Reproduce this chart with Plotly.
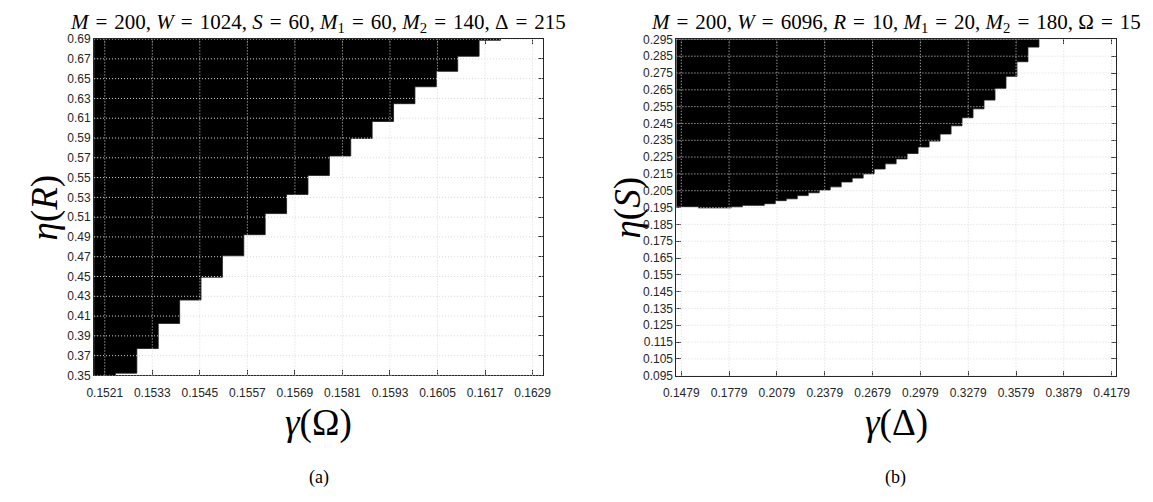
import plotly.graph_objects as go

# ---------------- data ----------------
# (a) column centres of gamma(Omega) and lower edge of the black (feasible) region eta(R)
a_gamma = [0.15210, 0.15264, 0.15318, 0.15372, 0.15426, 0.15480, 0.15534, 0.15588,
           0.15642, 0.15696, 0.15750, 0.15804, 0.15858, 0.15912, 0.15966, 0.16020,
           0.16074, 0.16128, 0.16182]
a_eta_low = [0.3500, 0.3523, 0.3772, 0.4026, 0.4262, 0.4493, 0.4709, 0.4923,
             0.5136, 0.5330, 0.5522, 0.5718, 0.5896, 0.6067, 0.6247, 0.6418,
             0.6574, 0.6726, 0.6888]
a_cell_width = 0.00054
a_xticks = [0.1521, 0.1533, 0.1545, 0.1557, 0.1569, 0.1581, 0.1593, 0.1605, 0.1617, 0.1629]
a_yticks = [0.35, 0.37, 0.39, 0.41, 0.43, 0.45, 0.47, 0.49, 0.51, 0.53, 0.55,
            0.57, 0.59, 0.61, 0.63, 0.65, 0.67, 0.69]
a_xrange = [0.15183, 0.16317]
a_yrange = [0.35, 0.69]

# (b) column centres of gamma(Delta) and lower edge of the black region eta(S)
b_gamma = [0.14829, 0.15518, 0.16207, 0.16897, 0.17586, 0.18275, 0.18964, 0.19653,
           0.20343, 0.21032, 0.21721, 0.22410, 0.23099, 0.23789, 0.24478, 0.25167,
           0.25856, 0.26545, 0.27235, 0.27924, 0.28613, 0.29302, 0.29991, 0.30681,
           0.31370, 0.32059, 0.32748, 0.33437, 0.34127, 0.34816, 0.35505, 0.36194,
           0.36883]
b_eta_low = [0.1955, 0.1955, 0.1948, 0.1948, 0.1948, 0.1954, 0.1963, 0.1963,
             0.1973, 0.1991, 0.2002, 0.2021, 0.2038, 0.2054, 0.2073, 0.2102,
             0.2125, 0.2150, 0.2179, 0.2210, 0.2239, 0.2271, 0.2310, 0.2345,
             0.2387, 0.2436, 0.2484, 0.2537, 0.2589, 0.2659, 0.2730, 0.2817,
             0.2904]
b_cell_width = 0.006892
b_xticks = [0.1479, 0.1779, 0.2079, 0.2379, 0.2679, 0.2979, 0.3279, 0.3579, 0.3879, 0.4179]
b_yticks = [0.095, 0.105, 0.115, 0.125, 0.135, 0.145, 0.155, 0.165, 0.175, 0.185,
            0.195, 0.205, 0.215, 0.225, 0.235, 0.245, 0.255, 0.265, 0.275, 0.285, 0.295]
b_xrange = [0.14484, 0.42053]
b_yrange = [0.095, 0.295]

# ---------------- figure ----------------
W, H = 1153, 502
AX = '#262626'
GRID = '#d8d8d8'
tickfont = dict(family='Liberation Sans, Arial, sans-serif', size=12, color=AX)
mathfont = 'Liberation Serif, Times New Roman, serif'


def cell_region(centres, lows, width, top):
    """Outline of the black cells: each column filled from its lower edge up to the top."""
    xs, ys = [centres[0] - width / 2], [top]
    for c, lo in zip(centres, lows):
        xs += [c - width / 2, c + width / 2]
        ys += [lo, lo]
    xs += [centres[-1] + width / 2, centres[0] - width / 2]
    ys += [top, top]
    return xs, ys


fig = go.Figure()
for xc, lo, w, top, xr, yr in ((a_gamma, a_eta_low, a_cell_width, a_yrange[1], 'x', 'y'),
                               (b_gamma, b_eta_low, b_cell_width, b_yrange[1], 'x2', 'y2')):
    xs, ys = cell_region(xc, lo, w, top)
    fig.add_trace(go.Scatter(x=xs, y=ys, mode='lines', fill='toself', fillcolor='black',
                             line=dict(color='#1a1a1a', width=0.8), xaxis=xr, yaxis=yr,
                             showlegend=False, hoverinfo='skip'))


def px_dom_x(a, b):
    return [a / W, b / W]


def px_dom_y(top, bottom):
    return [(H - bottom) / H, (H - top) / H]


def axis(domain, rng, tickvals, fmt, anchor):
    return dict(domain=domain, range=rng, tickvals=tickvals,
                ticktext=[fmt.format(v) for v in tickvals],
                ticks='inside', ticklen=5, tickwidth=1, tickcolor=AX,
                showline=True, linecolor=AX, linewidth=1, mirror='ticks',
                showgrid=False, zeroline=False, tickfont=tickfont,
                layer='above traces', anchor=anchor, fixedrange=True)


fig.update_layout(
    width=W, height=H, margin=dict(l=0, r=0, t=0, b=0),
    paper_bgcolor='white', plot_bgcolor='white',
    xaxis=axis(px_dom_x(83, 543), a_xrange, a_xticks, '{:.4f}', 'y'),
    yaxis=axis(px_dom_y(33, 379), a_yrange, a_yticks, '{:.2f}', 'x'),
    xaxis2=axis(px_dom_x(679.3, 1129.3), b_xrange, b_xticks, '{:.4f}', 'y2'),
    yaxis2=axis(px_dom_y(33.3, 379.3), b_yrange, b_yticks, '{:.3f}', 'x2'),
)
fig.layout.xaxis.ticklabelstandoff = 6
fig.layout.xaxis2.ticklabelstandoff = 6

# dotted grid lines drawn above the black cells (as in the original)
shapes = []
for xr, yr, xt, yt in (('x', 'y', a_xticks, a_yticks), ('x2', 'y2', b_xticks, b_yticks)):
    for v in xt:
        shapes.append(dict(type='line', layer='above', xref=xr, yref=yr + ' domain',
                           x0=v, x1=v, y0=0, y1=1,
                           line=dict(color=GRID, width=1, dash='1px,2px')))
    for v in yt:
        shapes.append(dict(type='line', layer='above', xref=xr + ' domain', yref=yr,
                           x0=0, x1=1, y0=v, y1=v,
                           line=dict(color=GRID, width=1, dash='1px,2px')))
fig.update_layout(shapes=shapes)

ann = []


def text(x, y, s, size, angle=0):
    ann.append(dict(xref='paper', yref='paper', x=x / W, y=1 - y / H, text=s,
                    showarrow=False, xanchor='center', yanchor='middle',
                    textangle=angle, font=dict(family=mathfont, size=size, color='black')))


EQ = '\u2004=\u2004'
text(312, 16, f'<i>M</i>{EQ}200, <i>W</i>{EQ}1024, <i>S</i>{EQ}60, <i>M</i><sub>1</sub>{EQ}60, '
              f'<i>M</i><sub>2</sub>{EQ}140, Δ{EQ}215', 21)
text(904, 16, f'<i>M</i>{EQ}200, <i>W</i>{EQ}6096, <i>R</i>{EQ}10, <i>M</i><sub>1</sub>{EQ}20, '
              f'<i>M</i><sub>2</sub>{EQ}180, Ω{EQ}15', 21)
text(313, 428, '<i>γ</i>(Ω)', 37)
text(905, 428, '<i>γ</i>(Δ)', 37)
text(33, 206, '<i>η</i>(<i>R</i>)', 37, -90)
text(630, 206, '<i>η</i>(<i>S</i>)', 37, -90)
text(313, 484, '(a)', 18)
text(904, 484, '(b)', 18)
fig.update_layout(annotations=ann)

fig.write_html('out.html')
